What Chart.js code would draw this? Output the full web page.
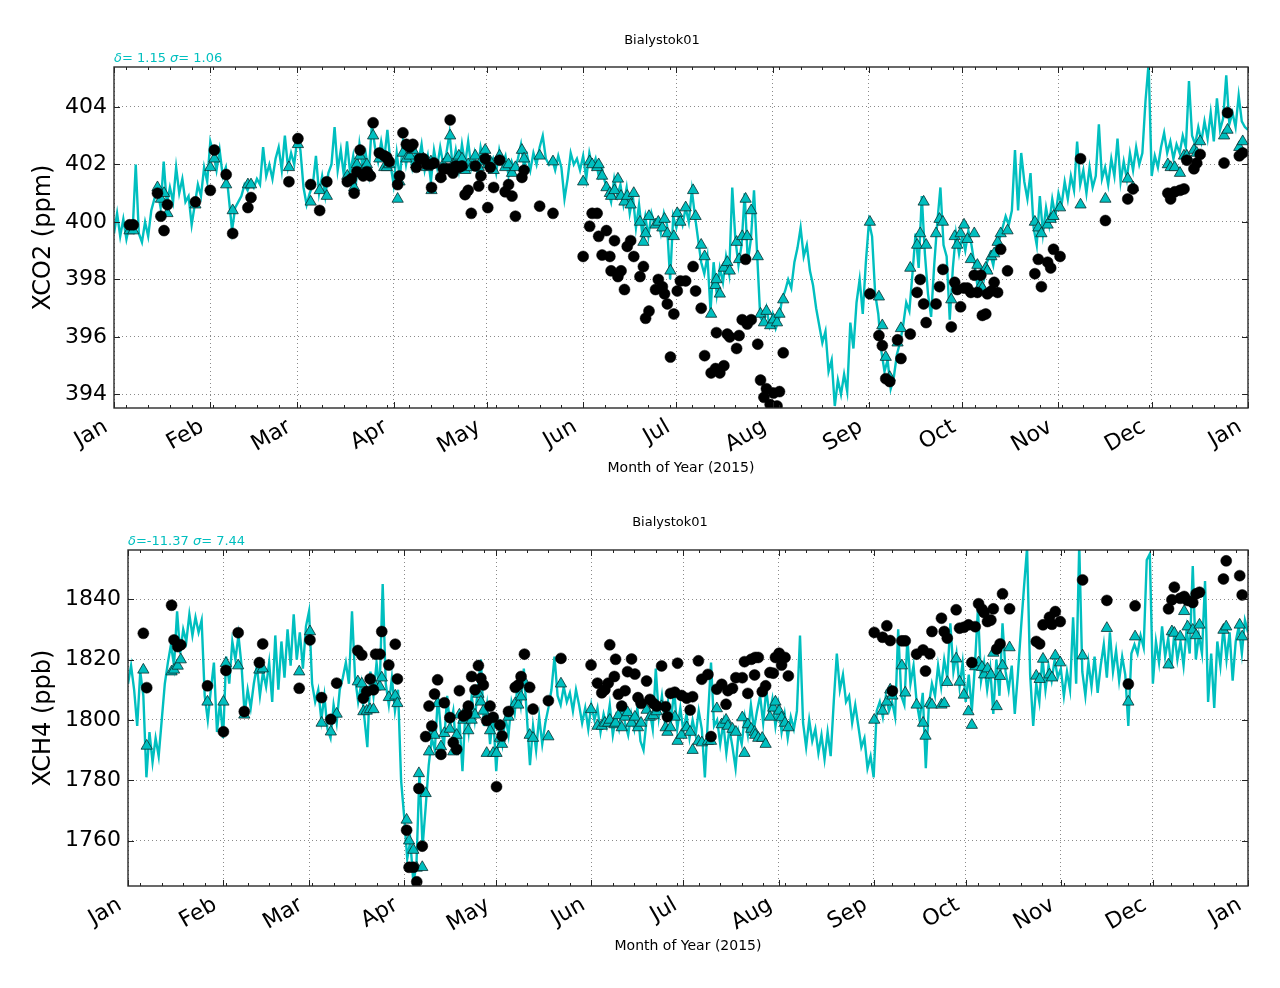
<!DOCTYPE html>
<html><head><meta charset="utf-8">
<script src="https://cdn.jsdelivr.net/npm/chart.js@4.4.1/dist/chart.umd.min.js"></script>
<style>
html,body{margin:0;padding:0;background:#fff;}
#wrap{position:relative;width:1280px;height:988px;overflow:hidden;font-family:"DejaVu Sans",sans-serif;}
canvas{position:absolute;left:0;}
.t{position:absolute;white-space:nowrap;transform:translate(-50%,-50%);font-size:13px;color:#000;}
.s{position:absolute;white-space:nowrap;transform:translateY(-50%);font-size:13px;color:#00BFBF;}
</style></head>
<body><div id="wrap">
<canvas id="c1" width="1280" height="494" style="top:0"></canvas>
<canvas id="c2" width="1280" height="494" style="top:494px"></canvas>
<div class="t" style="left:662px;top:39px">Bialystok01</div>
<div class="s" style="left:114px;top:57px"><i>δ</i>= 1.15 <i>σ</i>= 1.06</div>
<div class="t" style="left:670px;top:521px">Bialystok01</div>
<div class="s" style="left:128px;top:540px"><i>δ</i>=-11.37 <i>σ</i>= 7.44</div>
</div>
<script>
const monthStarts = [0,31,59,90,120,151,181,212,243,273,304,334,365];
const monthLabels = ['Jan','Feb','Mar','Apr','May','Jun','Jul','Aug','Sep','Oct','Nov','Dec','Jan'];
const co2Ticks = [394,396,398,400,402,404];
const ch4Ticks = [1760,1780,1800,1820,1840];

// daily model XCO2 (day 0 .. 365)
const co2Model = [
399.6,400.3,399.5,400.1,399.4,399.9,399.7,402.0,399.6,399.3,
400.0,399.5,400.4,400.8,401.1,400.5,402.1,400.6,401.2,400.7,
401.9,401.0,401.5,400.7,400.9,399.9,400.6,401.3,400.9,401.9,
401.4,402.8,402.4,401.8,402.5,401.6,401.9,400.8,399.7,400.5,
400.7,400.9,401.3,401.1,401.4,401.2,401.5,401.3,402.6,401.6,
402.0,401.5,402.2,402.6,401.8,403.0,401.9,402.4,402.0,402.9,
402.5,401.2,400.6,401.0,401.3,402.3,401.0,401.6,400.9,401.7,
402.0,403.3,401.8,402.5,401.6,402.8,401.7,402.3,401.5,402.7,
401.9,402.4,401.7,403.4,402.6,402.1,402.8,402.2,403.2,402.0,
401.3,402.4,401.5,402.8,402.0,402.6,401.9,402.5,402.1,402.7,
401.8,402.3,401.4,402.5,401.9,402.6,402.0,402.4,403.1,401.9,
402.5,401.8,402.7,402.0,402.8,401.9,402.4,401.7,402.6,402.1,
402.4,401.9,402.2,401.7,402.5,402.0,402.3,401.6,402.1,401.8,
402.2,402.7,401.9,402.3,401.8,402.4,402.0,402.6,403.0,402.2,
402.0,402.2,401.8,402.3,401.9,400.8,401.5,402.4,402.0,402.2,
401.8,402.3,401.5,402.4,401.9,402.2,401.6,401.9,401.4,401.1,
400.7,401.5,400.9,401.3,400.6,401.2,400.3,400.9,399.8,400.6,
399.6,400.2,399.5,400.3,399.9,400.1,399.6,400.3,399.9,398.0,
400.2,399.8,400.3,399.9,400.5,400.0,401.1,400.2,399.4,398.6,
398.2,398.8,396.9,398.6,397.5,398.4,397.9,398.8,398.2,401.2,
399.4,398.5,399.2,401.0,398.6,399.4,401.1,398.9,396.7,396.5,
397.0,396.4,396.8,396.3,396.6,397.3,397.6,398.0,397.7,398.6,
399.1,399.8,398.8,399.2,398.3,397.8,397.0,396.4,395.8,396.2,
394.8,395.2,393.6,394.5,394.0,394.7,394.1,396.5,395.6,397.2,
398.0,396.8,398.6,400.0,399.5,397.5,396.8,395.5,394.8,395.2,
394.2,394.6,395.4,395.8,396.4,397.2,396.9,398.2,399.6,398.4,
400.9,398.9,397.5,396.7,398.5,400.0,401.2,399.2,398.8,396.6,
398.4,399.6,398.9,399.5,399.0,399.7,399.2,398.5,397.7,398.3,
398.0,398.6,398.9,398.5,399.2,399.4,399.8,400.2,399.9,400.4,
402.5,400.4,402.4,401.4,400.8,401.7,399.8,399.2,400.9,399.6,
400.5,399.9,400.8,400.2,401.0,400.6,401.4,400.8,401.6,401.1,
402.8,401.3,401.8,401.0,401.9,401.2,401.6,403.4,401.5,401.9,
401.3,402.2,401.6,402.9,401.4,402.1,401.5,402.4,401.8,402.6,
402.0,402.4,404.2,405.5,401.6,402.3,401.9,402.6,403.1,402.4,
402.8,402.2,402.7,402.4,403.0,402.6,404.9,403.0,402.7,403.3,
402.8,403.5,402.9,403.8,402.8,404.3,403.2,403.6,405.1,403.4,
403.8,403.3,404.4,403.5,403.3,403.2
];

// daily model XCH4 (day 0 .. 365)
const ch4Model = [
1812,1818,1810,1798,1816,1808,1781,1796,1786,1794,
1788,1800,1812,1819,1825,1818,1836,1822,1830,1826,
1835,1828,1834,1829,1833,1808,1800,1810,1819,1796,
1806,1794,1821,1812,1826,1820,1828,1818,1802,1810,
1804,1812,1818,1808,1816,1811,1819,1806,1828,1810,
1826,1814,1830,1818,1835,1820,1829,1817,1831,1836,
1812,1806,1810,1800,1808,1797,1794,1805,1799,1810,
1814,1819,1812,1836,1814,1806,1812,1801,1791,1816,
1808,1819,1810,1845,1812,1805,1814,1803,1810,1780,
1768,1754,1760,1746,1752,1783,1758,1771,1785,1794,
1790,1808,1796,1792,1808,1798,1803,1790,1800,1783,
1804,1796,1808,1800,1810,1820,1798,1805,1792,1802,
1783,1798,1792,1801,1795,1806,1802,1812,1805,1817,
1801,1785,1798,1790,1801,1792,1799,1804,1810,1821,
1808,1805,1811,1806,1809,1803,1810,1805,1799,1804,
1797,1805,1800,1804,1796,1802,1798,1805,1795,1801,
1797,1804,1799,1795,1802,1797,1804,1793,1790,1800,
1803,1797,1817,1801,1808,1799,1806,1800,1810,1797,
1804,1796,1802,1794,1800,1795,1803,1797,1781,1801,
1819,1798,1800,1792,1799,1789,1797,1791,1784,1796,
1792,1801,1795,1805,1797,1803,1808,1799,1810,1802,
1807,1798,1805,1796,1802,1794,1801,1797,1803,1828,
1799,1791,1800,1793,1797,1789,1795,1787,1796,1788,
1806,1822,1810,1815,1806,1808,1799,1805,1798,1791,
1794,1784,1788,1781,1803,1806,1801,1808,1803,1806,
1801,1830,1808,1805,1827,1812,1818,1806,1800,1809,
1784,1805,1812,1808,1818,1811,1820,1814,1832,1816,
1822,1811,1819,1806,1815,1803,1818,1837,1813,1819,
1810,1817,1802,1820,1808,1832,1816,1810,1818,1802,
1815,1830,1844,1857,1815,1798,1812,1806,1821,1810,
1818,1813,1820,1814,1817,1808,1816,1810,1834,1812,
1858,1816,1808,1819,1811,1821,1809,1818,1825,1814,
1829,1816,1823,1813,1821,1815,1798,1822,1825,1822,
1828,1824,1853,1855,1812,1826,1819,1831,1821,1827,
1817,1829,1820,1826,1818,1830,1822,1851,1820,1828,
1822,1846,1806,1822,1804,1826,1818,1831,1820,1829,
1813,1826,1831,1822,1833,1829
];

// XCO2 observation days, observed values, model sampled at observation times
const co2ObsDays = [
5.0,6.2,14.0,15.1,16.1,17.2,26.2,31.0,32.3,36.1,
38.2,43.1,44.1,56.3,59.2,63.3,66.2,68.5,75.1,76.4,
77.3,78.2,79.2,80.2,81.4,82.5,83.4,85.4,87.0,87.8,
88.6,91.3,91.9,93.0,94.1,95.2,96.2,97.3,98.4,99.6,
100.7,102.0,102.2,103.0,105.2,106.0,107.4,108.2,109.1,110.0,
111.0,112.0,113.0,114.0,115.0,116.3,117.4,118.1,119.5,120.3,
121.1,122.2,124.1,125.9,127.0,128.1,129.2,131.3,132.0,137.0,
141.3,151.0,153.1,153.9,155.5,156.0,157.1,158.5,159.6,160.0,
161.1,162.2,163.2,164.3,165.2,166.3,167.3,169.3,170.4,171.1,
172.2,174.3,175.2,176.5,177.2,178.1,179.1,180.2,181.3,182.3,
184.0,186.4,187.2,189.0,190.1,192.2,193.6,193.9,195.0,196.3,
197.4,198.2,200.4,201.2,202.2,203.3,203.8,205.1,207.2,208.1,
209.2,210.0,211.2,212.3,213.4,214.2,215.4,243.3,246.2,247.3,
248.4,249.7,252.2,253.3,256.3,258.5,259.5,260.6,261.4,264.6,
265.7,266.8,269.5,270.6,271.4,272.5,273.6,274.7,275.8,276.9,
277.9,279.0,279.5,280.6,281.1,282.4,283.3,284.4,285.4,287.6,
296.4,297.5,298.5,300.5,301.5,302.4,304.5,311.1,319.1,326.3,
328.0,339.2,340.1,341.4,343.1,344.4,345.3,347.6,348.5,349.6,
357.3,358.4,362.2,363.3
];
const co2Obs = [
399.9,399.9,401.0,400.2,399.7,400.6,400.7,401.1,402.5,401.65,
399.6,400.5,400.85,401.4,402.9,401.3,400.4,401.4,401.4,401.5,
401.0,401.75,402.5,401.6,401.75,401.6,403.45,402.4,402.3,402.25,
402.1,401.3,401.6,403.1,402.7,402.6,402.7,401.9,402.2,402.2,
402.0,402.0,401.2,402.05,401.55,401.85,401.85,403.55,401.7,401.95,
401.9,401.95,400.95,401.1,400.3,401.95,401.25,401.6,402.2,400.5,
401.9,401.2,402.15,401.05,401.3,400.9,400.2,401.55,401.8,400.55,
400.3,398.8,399.85,400.3,400.3,399.5,398.85,399.7,398.8,398.3,
399.35,398.1,398.3,397.65,399.15,399.35,398.8,398.1,398.45,396.65,
396.9,397.65,398.0,397.75,397.5,397.15,395.3,396.8,397.6,397.95,
397.95,398.45,397.6,397.0,395.35,394.75,394.9,396.15,394.75,395.0,
396.1,396.0,395.6,396.05,396.6,398.7,396.45,396.6,395.75,394.5,
393.9,394.2,393.65,394.05,393.6,394.1,395.45,397.5,396.05,395.7,
394.55,394.45,395.9,395.25,396.1,397.55,398.0,397.15,396.5,397.15,
397.75,398.35,396.35,397.9,397.65,397.05,397.7,397.7,397.55,398.15,
397.55,398.15,396.75,396.8,397.5,397.6,397.9,397.55,399.05,398.3,
398.2,398.7,397.75,398.6,398.4,399.05,398.8,402.2,400.05,400.8,
401.15,401.0,400.8,401.05,401.1,401.15,402.15,401.85,402.05,402.35,
402.05,403.8,402.3,402.4
];
const co2ModelAtObs = [
399.7,399.7,401.2,400.8,401.0,400.3,400.6,401.9,402.2,401.3,
400.4,401.3,401.3,401.9,402.7,400.7,401.1,400.9,401.6,401.4,
401.2,402.0,402.3,401.8,402.0,401.7,403.0,402.2,401.9,401.9,
402.0,400.8,401.4,402.4,402.2,402.3,402.5,402.0,402.1,402.2,
401.9,402.1,401.1,402.0,401.6,402.0,402.2,403.0,402.0,402.1,
402.3,402.2,401.8,402.0,401.9,402.3,401.9,402.1,402.5,402.0,
402.1,401.8,402.3,401.9,402.0,401.7,401.9,402.5,402.2,402.3,
402.1,401.4,402.1,402.0,401.9,402.0,401.6,401.2,401.0,400.9,
401.1,401.5,400.9,400.7,400.9,400.6,401.0,400.0,399.3,399.6,
400.2,399.9,400.0,399.8,400.1,399.6,398.3,399.5,400.3,400.0,
400.5,401.1,400.2,399.2,398.8,396.8,397.8,398.0,397.5,398.4,
398.6,398.3,399.3,398.7,399.5,400.8,399.5,400.4,398.8,396.8,
396.5,396.9,396.4,396.6,396.5,396.8,397.3,400.0,397.4,396.4,
395.3,394.6,395.8,396.3,398.4,399.2,399.6,400.7,399.2,399.6,
400.1,400.0,397.3,399.5,399.2,399.6,399.9,399.4,398.7,399.6,
398.5,397.8,397.7,398.4,398.3,398.8,398.9,399.3,399.6,399.7,
400.0,399.8,399.6,399.9,400.1,400.2,400.5,400.6,400.8,401.5,
401.2,402.0,401.9,401.9,401.7,402.3,402.3,402.5,402.4,402.8,
403.0,403.2,402.6,402.8
];

// XCH4 observation days, observed values, model sampled at observation times
const ch4ObsDays = [
5.0,6.1,14.2,15.0,16.2,17.2,25.9,31.1,31.9,35.9,
37.9,42.8,43.9,55.8,59.3,63.1,66.1,68.0,74.9,76.2,
76.7,77.8,78.9,80.0,80.7,82.1,82.7,85.0,87.1,87.8,
90.8,91.6,93.0,94.1,94.8,95.9,97.0,98.1,99.0,99.9,
100.9,102.0,103.1,104.9,106.0,107.1,108.0,109.3,110.4,110.9,
112.0,113.1,114.2,115.0,115.8,116.9,118.0,119.0,120.1,121.2,
121.9,124.0,126.2,127.2,128.1,129.2,130.9,132.0,137.0,141.1,
150.9,153.0,154.4,155.4,156.5,157.0,158.5,158.9,159.8,160.9,
162.0,162.8,164.1,165.2,166.2,167.2,169.0,170.1,171.2,172.3,
173.9,175.2,175.8,176.8,178.2,179.1,180.4,182.1,183.2,184.0,
185.9,187.0,189.0,190.0,191.9,193.5,194.9,195.5,197.0,198.1,
200.2,200.9,202.0,203.1,204.2,204.4,205.4,206.7,207.8,209.2,
210.3,211.0,212.2,213.0,214.1,215.2,243.2,245.9,247.3,248.4,
249.1,252.2,253.3,257.0,259.1,259.9,261.3,262.0,265.1,266.0,
267.0,269.9,271.0,272.4,273.9,275.0,276.1,277.2,278.3,279.0,
280.1,281.2,282.0,283.1,284.2,285.0,287.3,296.0,297.1,298.2,
300.3,301.1,302.2,303.8,311.1,319.0,326.0,328.2,339.1,340.2,
341.0,342.9,344.2,345.3,347.0,348.1,349.2,357.0,357.9,362.3,
363.1
];
const ch4Obs = [
1828.7,1810.7,1838.0,1826.5,1824.3,1824.9,1811.3,1796.1,1816.4,1828.9,
1802.8,1819.0,1825.2,1810.5,1826.5,1807.4,1800.2,1812.2,1823.0,1821.5,
1807.2,1809.4,1813.6,1810.0,1821.8,1821.8,1829.3,1818.2,1825.1,1813.6,
1763.5,1751.2,1751.2,1746.4,1777.3,1758.2,1794.5,1804.6,1798.0,1808.6,
1813.3,1788.6,1805.7,1800.8,1792.5,1790.3,1809.7,1801.3,1802.0,1804.6,
1814.4,1810.0,1818.0,1813.8,1811.6,1799.8,1804.6,1800.9,1777.9,1798.3,
1794.7,1802.8,1810.8,1811.6,1814.4,1821.8,1810.8,1803.6,1806.4,1820.4,
1818.2,1812.2,1809.0,1810.0,1812.2,1824.9,1814.4,1820.1,1808.5,1804.6,
1809.7,1816.0,1820.2,1815.2,1807.4,1805.5,1812.9,1806.8,1805.5,1804.6,
1817.9,1804.4,1801.1,1808.8,1809.2,1818.8,1808.1,1807.2,1803.3,1807.7,
1819.6,1813.5,1815.1,1794.5,1810.2,1811.8,1805.2,1809.7,1810.5,1814.0,
1814.0,1819.3,1808.8,1820.1,1814.9,1820.7,1820.7,1809.4,1811.3,1815.7,
1815.5,1820.7,1822.1,1818.2,1820.7,1814.6,1829.0,1827.4,1831.2,1826.3,
1809.6,1826.2,1826.2,1821.8,1823.2,1816.2,1821.9,1829.3,1833.7,1829.3,
1827.1,1836.5,1830.4,1830.7,1831.5,1819.0,1830.9,1838.5,1836.7,1835.6,
1832.6,1833.1,1836.8,1823.5,1825.2,1841.8,1836.8,1826.0,1825.2,1831.5,
1834.0,1831.7,1835.9,1832.6,1846.4,1839.6,1811.9,1837.8,1836.8,1839.8,
1844.0,1840.3,1840.9,1839.6,1838.9,1841.8,1842.3,1846.7,1852.7,1847.8,
1841.4
];
const ch4ModelAtObs = [
1816.6,1791.4,1816.0,1816.6,1817.9,1820.0,1806.0,1806.0,1818.8,1818.0,
1801.7,1816.6,1817.0,1816.0,1829.3,1799.0,1796.1,1802.0,1812.7,1812.0,
1802.8,1803.0,1803.5,1803.5,1811.0,1811.0,1814.0,1807.5,1808.0,1805.5,
1766.9,1760.0,1756.9,1751.0,1782.3,1751.2,1775.7,1789.5,1795.6,1795.0,
1805.5,1791.2,1795.6,1797.0,1789.5,1795.0,1801.7,1800.0,1803.8,1796.5,
1800.0,1801.7,1808.6,1806.0,1803.0,1789.0,1796.5,1789.0,1789.0,1794.0,
1792.0,1801.0,1805.5,1805.0,1807.7,1812.6,1795.0,1794.0,1794.5,1812.0,
1803.5,1798.0,1798.0,1799.0,1799.0,1800.0,1798.5,1799.0,1801.5,1797.5,
1801.0,1802.5,1799.0,1801.0,1797.5,1799.0,1803.3,1801.0,1801.5,1802.8,
1804.5,1797.5,1796.0,1797.5,1801.0,1793.0,1795.0,1797.5,1796.0,1790.0,
1793.0,1792.5,1793.0,1793.0,1803.8,1798.5,1800.0,1798.0,1797.0,1796.0,
1800.8,1789.0,1798.5,1797.0,1796.0,1795.0,1794.0,1794.0,1792.0,1801.0,
1804.0,1806.0,1803.0,1800.8,1799.0,1797.5,1800.0,1803.0,1806.0,1810.0,
1808.0,1818.0,1809.0,1805.0,1799.0,1794.7,1805.5,1805.0,1805.0,1805.5,
1812.5,1820.3,1812.6,1808.3,1802.8,1798.3,1817.7,1819.0,1817.5,1815.0,
1817.0,1815.0,1822.2,1804.5,1814.5,1818.0,1824.0,1814.6,1813.5,1820.2,
1815.0,1814.0,1821.3,1819.0,1821.3,1830.4,1806.0,1827.6,1818.3,1829.3,
1828.8,1827.6,1836.0,1830.9,1829.8,1828.0,1831.5,1829.8,1830.9,1831.5,
1827.6
];

const CYAN = '#00BFBF';
const FONT = '"DejaVu Sans", sans-serif';
const pts = (xs, ys) => xs.map((x, i) => ({x: x, y: ys[i]}));
const dayIndex = arr => arr.map((_, i) => i);

const framePlugin = {
  id: 'frame',
  afterDraw(chart) {
    const {ctx, chartArea: a, scales: {x, y}} = chart;
    ctx.save();
    ctx.strokeStyle = '#222';
    ctx.lineWidth = 1;
    ctx.beginPath();
    for (let d = 4; d < 365; d += 7) {
      const px = Math.round(x.getPixelForValue(d)) + 0.5;
      ctx.moveTo(px, a.bottom); ctx.lineTo(px, a.bottom - 3);
      ctx.moveTo(px, a.top); ctx.lineTo(px, a.top + 3);
    }
    x.ticks.forEach(t => {
      const px = Math.round(x.getPixelForValue(t.value)) + 0.5;
      ctx.moveTo(px, a.bottom); ctx.lineTo(px, a.bottom - 6);
      ctx.moveTo(px, a.top); ctx.lineTo(px, a.top + 6);
    });
    y.ticks.forEach(t => {
      const py = Math.round(y.getPixelForValue(t.value)) + 0.5;
      ctx.moveTo(a.left, py); ctx.lineTo(a.left + 6, py);
      ctx.moveTo(a.right, py); ctx.lineTo(a.right - 6, py);
    });
    ctx.stroke();
    ctx.lineWidth = 1.4;
    ctx.strokeStyle = '#2a2a2a';
    ctx.strokeRect(a.left, a.top, a.right - a.left, a.bottom - a.top);
    ctx.restore();
  }
};

function build(id, p) {
  return new Chart(document.getElementById(id), {
    type: 'scatter',
    data: {datasets: [
      {data: pts(p.obsDays, p.obs), pointStyle: 'circle', pointRadius: 5.5,
       backgroundColor: '#000', borderColor: '#000', borderWidth: 0.5, clip: 0},
      {data: pts(p.obsDays, p.modelAtObs), pointStyle: 'triangle', pointRadius: 6.5,
       backgroundColor: CYAN, borderColor: '#0a2e2e', borderWidth: 0.8, clip: 0},
      {data: pts(dayIndex(p.model), p.model), showLine: true, pointRadius: 0,
       borderColor: CYAN, borderWidth: 2.4, tension: 0, clip: 0}
    ]},
    options: {
      responsive: false, animation: false, events: [],
      layout: {padding: {top: p.top, right: 32, left: 0, bottom: 0}},
      plugins: {legend: {display: false}, tooltip: {enabled: false}},
      scales: {
        x: {
          type: 'linear', min: 0, max: 365,
          afterBuildTicks: s => { s.ticks = monthStarts.map(v => ({value: v})); },
          afterFit: s => { s.height = p.xh; },
          ticks: {autoSkip: false, maxRotation: 30, minRotation: 30, padding: 6, labelOffset: -8,
                  color: '#000', font: {family: FONT, size: 22},
                  callback: (v, i) => monthLabels[i]},
          grid: {color: '#8a8a8a', lineWidth: 1, drawTicks: false},
          border: {display: false, dash: [1, 3]},
          title: {display: true, text: 'Month of Year (2015)', color: '#000',
                  font: {family: FONT, size: 14}, padding: {top: 0, bottom: p.xtp}}
        },
        y: {
          min: p.ymin, max: p.ymax,
          afterBuildTicks: s => { s.ticks = p.yticks.map(v => ({value: v})); },
          afterFit: s => { s.width = p.yw; },
          ticks: {padding: 7, color: '#000', font: {family: FONT, size: 22}, callback: v => String(v)},
          grid: {color: '#8a8a8a', lineWidth: 1, drawTicks: false},
          border: {display: false, dash: [1, 3]},
          title: {display: true, text: p.ylabel, color: '#000',
                  font: {family: FONT, size: 24}, padding: {top: 29, bottom: 0}}
        }
      }
    },
    plugins: [framePlugin]
  });
}

build('c1', {obsDays: co2ObsDays, obs: co2Obs, modelAtObs: co2ModelAtObs, model: co2Model,
  top: 67, xh: 86, xtp: 17, yw: 114, ymin: 393.53, ymax: 405.39, yticks: co2Ticks, ylabel: 'XCO2 (ppm)'});
build('c2', {obsDays: ch4ObsDays, obs: ch4Obs, modelAtObs: ch4ModelAtObs, model: ch4Model,
  top: 56, xh: 102, xtp: 33, yw: 128, ymin: 1745.0, ymax: 1856.3, yticks: ch4Ticks, ylabel: 'XCH4 (ppb)'});
</script>
</body></html>
